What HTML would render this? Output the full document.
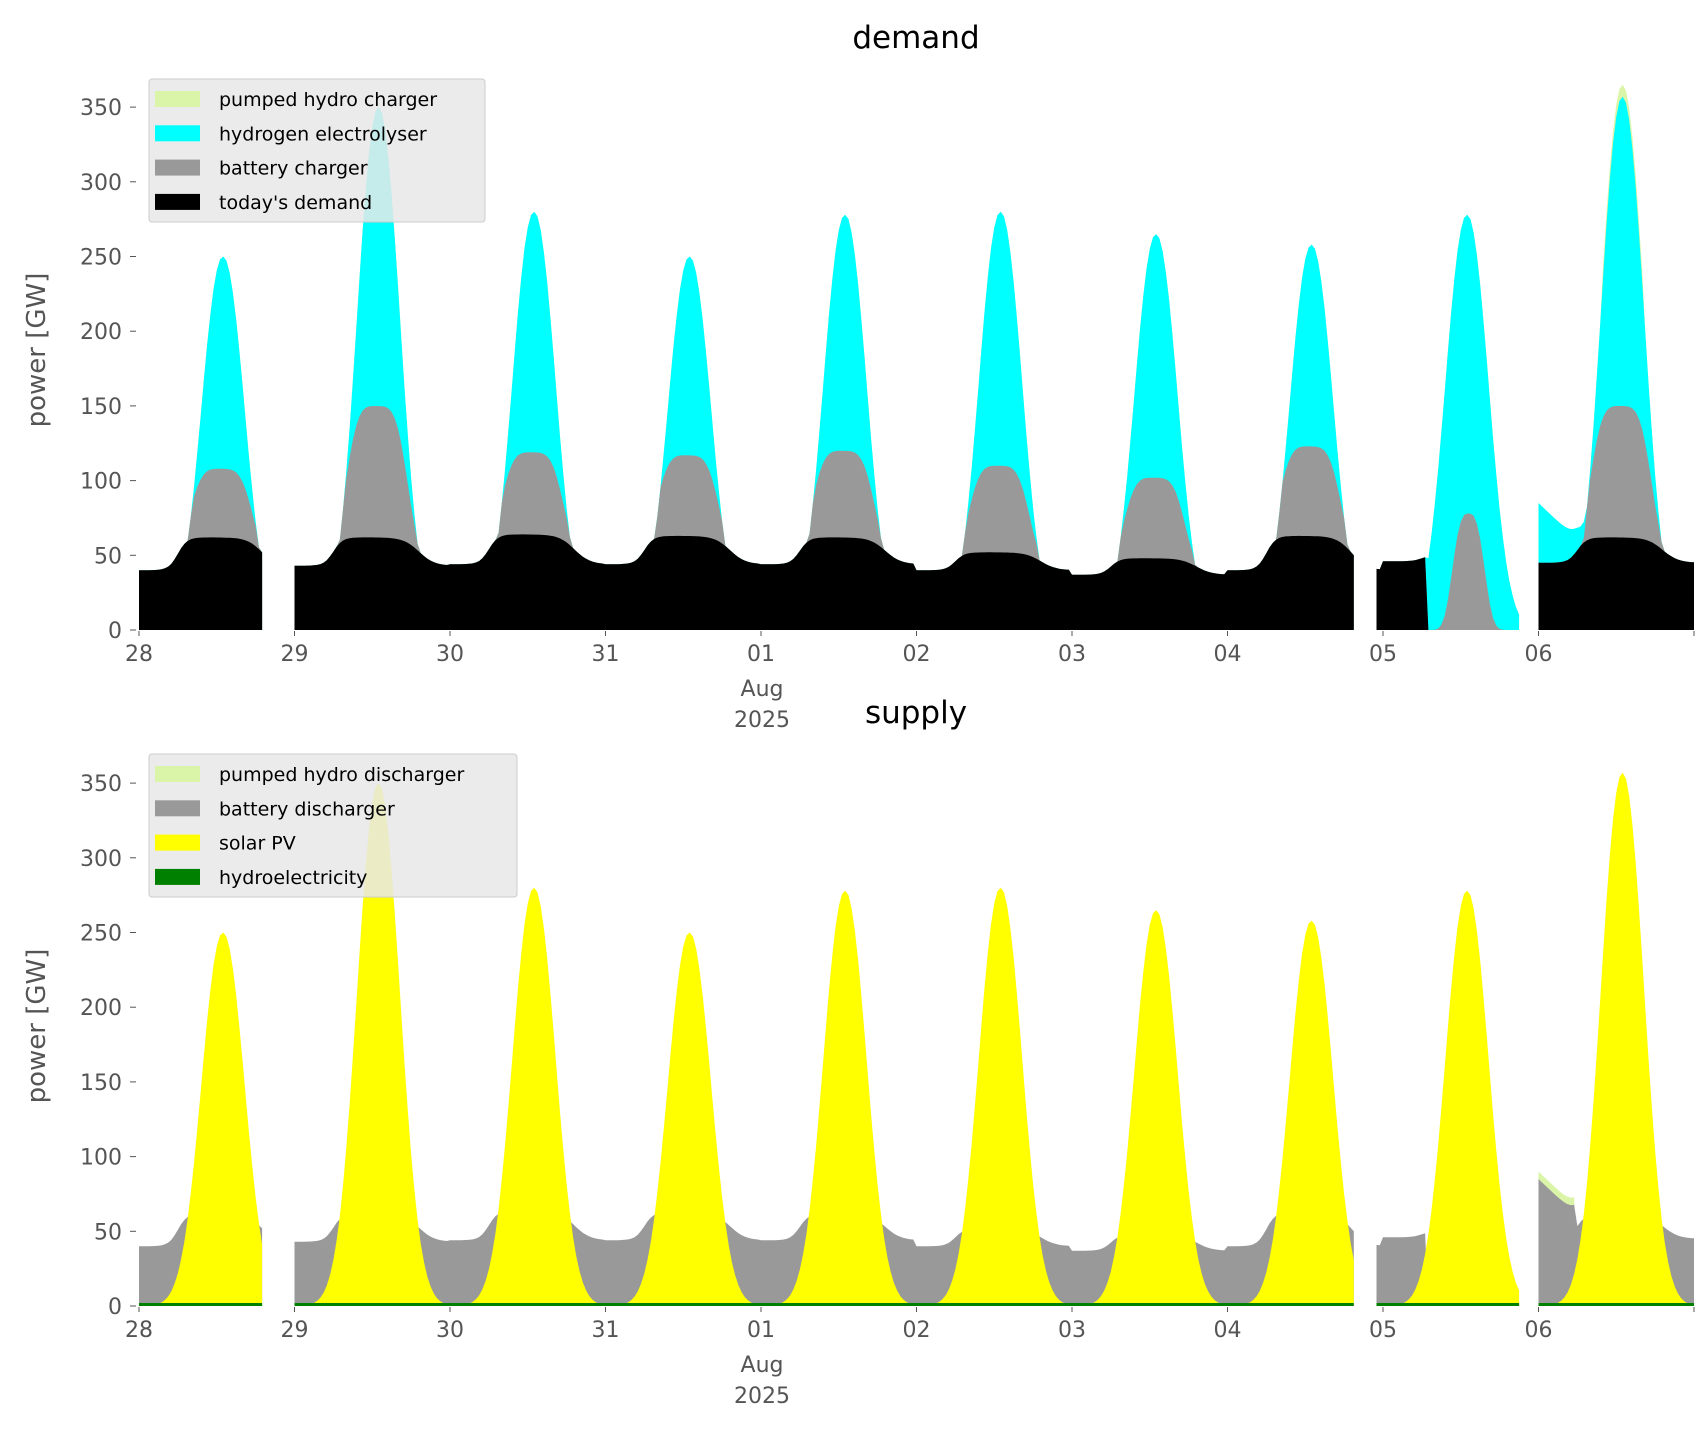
<!DOCTYPE html>
<html><head><meta charset="utf-8">
<style>
body{margin:0;background:#fff;}
svg{display:block;font-family:"DejaVu Sans","Liberation Sans",sans-serif;}
</style></head><body>
<svg id="s" width="1706" height="1431" xmlns="http://www.w3.org/2000/svg"></svg>
<script>
const S=document.getElementById('s');
const P=[[250,108,62,40],[350,150,62,43],[280,119,64,44],[250,117,63,44],[278,120,62,44],[280,110,52,40],[265,102,48,37],[258,123,63,40],[278,78,50,46],[357,150,62,45]];
function X(t){return 139+t*155.5;}
function sig(z){return 1/(1+Math.exp(-z));}
function gap(t){return (t>0.80&&t<0.99)||(t>7.83&&t<7.95)||(t>8.89&&t<8.98);}
function vals(t){
 let d=Math.min(9,Math.floor(t)),tt=t-d,p=P[d];
 let x=tt-0.54;
 let sol=p[0]*Math.exp(-Math.pow(Math.abs(x)/0.19,2.1));
 let w=sig((tt-0.25)/0.03)*sig(-(tt-0.8)/0.05);
 let base=p[3]+(p[2]-p[3])*w;
 let bat=Math.min(sol,base+(p[1]-p[2])*Math.exp(-Math.pow(Math.abs(tt-0.53)/0.21,4)));
 let extra=0;
 if(d==9&&tt<0.3){extra=Math.max(0,40-100*tt);}
 if(d==8&&tt>0.28){base=0;bat=Math.min(sol,p[1]*Math.exp(-Math.pow(Math.abs(tt-0.55)/0.12,3)));}
 bat=Math.max(bat,base);
 let cy=Math.max(sol,bat+extra);
 if(gap(t)){return null;}
 return {sol,base,bat,cy,extra,d,tt};
}
function area(y0,fn,col){
 let segs=[],cur=[];
 for(let i=0;i<=480;i++){let t=i/48;let v=vals(Math.min(t,9.999));
  if(!v){if(cur.length){segs.push(cur);cur=[];}continue;}
  cur.push([X(t),fn(v)]);}
 if(cur.length)segs.push(cur);
 let out='';
 segs.forEach(s=>{let d='M'+s[0][0].toFixed(1)+','+y0;s.forEach(p=>{d+='L'+p[0].toFixed(1)+','+(y0-p[1]*1.494).toFixed(1);});d+='L'+s[s.length-1][0].toFixed(1)+','+y0+'Z';out+=`<path d="${d}" fill="${col}"/>`;});
 return out;
}
let h='';
h+=area(630,v=>v.d==9&&v.tt>0.4&&v.tt<0.68?v.cy+8:v.cy,'#daf5a8');
h+=area(630,v=>v.cy,'#00ffff');
h+=area(630,v=>v.bat,'#999');
h+=area(630,v=>v.base,'#000');
h+=area(1306,v=>v.d==9&&v.tt<0.25?v.base+v.extra+5:0,'#daf5a8');
h+=area(1306,v=>v.d==9&&v.tt<0.25?v.base+v.extra:v.base,'#999');
h+=area(1306,v=>v.sol,'#ffff00');
h+=area(1306,v=>2,'#008000');
function axes(y0,title,ty){
 let g=`<text x="916" y="${ty}" font-size="31" text-anchor="middle">${title}</text>`;
 for(let k=0;k<=7;k++){let y=y0-k*50*1.494;g+=`<text x="122" y="${y+8}" font-size="22" fill="#555" text-anchor="end">${k*50}</text><line x1="130" x2="136" y1="${y}" y2="${y}" stroke="#555"/>`;}
 const lab=['28','29','30','31','01','02','03','04','05','06'];
 for(let k=0;k<=10;k++){let x=X(k);g+=`<line x1="${x}" x2="${x}" y1="${y0+1}" y2="${y0+6}" stroke="#555"/>`;if(k<10)g+=`<text x="${x}" y="${y0+31}" font-size="22" fill="#555" text-anchor="middle">${lab[k]}</text>`;}
 g+=`<text x="762" y="${y0+66}" font-size="22" fill="#555" text-anchor="middle">Aug</text><text x="762" y="${y0+97}" font-size="22" fill="#555" text-anchor="middle">2025</text>`;
 let cy=y0-280;g+=`<text transform="translate(45,${cy}) rotate(-90)" font-size="26" fill="#555" text-anchor="middle">power [GW]</text>`;
 return g;}
h+=axes(630,'demand',48);
h+=axes(1306,'supply',723);
function legend(x,y,w,items){
 let g=`<rect x="${x}" y="${y}" width="${w}" height="143" rx="3" fill="#e8e8e8" fill-opacity="0.85" stroke="#ccc"/>`;
 items.forEach((it,i)=>{let yy=y+20+i*34.3;g+=`<rect x="${x+6}" y="${yy-8}" width="45" height="16" fill="${it[1]}"/><text x="${x+70}" y="${yy+7}" font-size="19">${it[0]}</text>`;});
 return g;}
h+=legend(149,79,336,[['pumped hydro charger','#daf5a8'],['hydrogen electrolyser','#00ffff'],['battery charger','#999'],["today's demand",'#000']]);
h+=legend(149,754,368,[['pumped hydro discharger','#daf5a8'],['battery discharger','#999'],['solar PV','#ffff00'],['hydroelectricity','#008000']]);
S.innerHTML=h;
</script>
</body></html>
